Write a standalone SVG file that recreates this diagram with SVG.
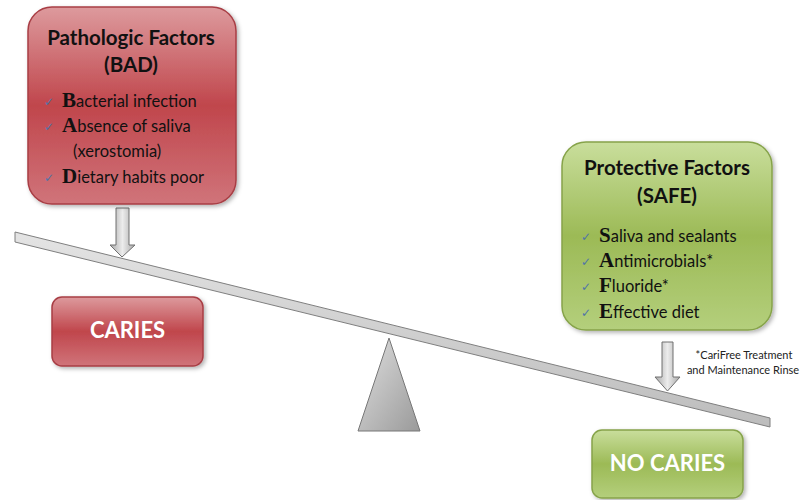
<svg xmlns="http://www.w3.org/2000/svg" width="801" height="500" viewBox="0 0 801 500">
  <defs>
    <linearGradient id="gRed" x1="0" y1="0" x2="0" y2="1">
      <stop offset="0" stop-color="#dd9a9d"/>
      <stop offset="0.5" stop-color="#c0464c"/>
      <stop offset="1" stop-color="#d0747a"/>
    </linearGradient>
    <linearGradient id="gGreen" x1="0" y1="0" x2="0" y2="1">
      <stop offset="0" stop-color="#c9de9c"/>
      <stop offset="0.5" stop-color="#9cba56"/>
      <stop offset="1" stop-color="#b4cf7c"/>
    </linearGradient>
    <linearGradient id="gArrow" x1="0" y1="0" x2="1" y2="0">
      <stop offset="0" stop-color="#a8a8a8"/>
      <stop offset="0.5" stop-color="#ececec"/>
      <stop offset="1" stop-color="#a8a8a8"/>
    </linearGradient>
    <linearGradient id="gBeam" x1="0" y1="0" x2="0" y2="1">
      <stop offset="0" stop-color="#e4e4e4"/>
      <stop offset="1" stop-color="#bcbcbc"/>
    </linearGradient>
    <linearGradient id="gTri" x1="0" y1="0" x2="1" y2="1">
      <stop offset="0" stop-color="#e0e0e0"/>
      <stop offset="1" stop-color="#9a9a9a"/>
    </linearGradient>
    <filter id="sh" x="-10%" y="-10%" width="125%" height="125%">
      <feDropShadow dx="2" dy="2" stdDeviation="2" flood-color="#000" flood-opacity="0.3"/>
    </filter>
    <style>
      .title { font-family: Lato, "Liberation Sans", sans-serif; font-weight: bold; font-size: 20.5px; fill: #111; text-anchor: middle; }
      .item { font-family: Lato, "Liberation Sans", sans-serif; font-size: 16.5px; fill: #111; }
      .big { font-family: "Liberation Serif", serif; font-weight: bold; font-size: 21px; }
      .chk { font-family: "DejaVu Sans", sans-serif; font-size: 12px; fill: #4f74a8; }
      .btn { font-family: Lato, "Liberation Sans", sans-serif; font-weight: bold; font-size: 22px; fill: #fff; text-anchor: middle; }
      .note { font-family: Lato, "Liberation Sans", sans-serif; font-size: 11px; fill: #222; text-anchor: middle; }
      .redbox { fill: url(#gRed); stroke: #a83e44; stroke-width: 1.5; }
      .greenbox { fill: url(#gGreen); stroke: #86a34a; stroke-width: 1.5; }
      .arrow { fill: url(#gArrow); stroke: #707070; stroke-width: 1; }
    </style>
  </defs>
  <rect width="801" height="500" fill="#fff"/>

  <g id="connectors">
    <polygon id="beam" points="15,232 770,418 770,427 15,242" fill="url(#gBeam)" stroke="#7f7f7f" stroke-width="1"/>
    <polygon id="fulcrum" points="389,338 420,431 358,431" fill="url(#gTri)" stroke="#777" stroke-width="1"/>
    <path id="arrow-bad" class="arrow" d="M116,208 H129 V245 H135 L122,257 L110,245 H116 Z"/>
    <path id="arrow-safe" class="arrow" d="M662,342 H673 V377 H680 L667.5,391 L655,377 H662 Z"/>
  </g>

  <g id="pathologic">
    <rect class="redbox" x="28" y="7" width="208" height="197" rx="24" filter="url(#sh)"/>
    <text class="title" x="131" y="45">Pathologic Factors</text>
    <text class="title" x="131" y="72">(BAD)</text>
    <text class="chk" x="44" y="106">✓</text>
    <text class="item" x="62" y="107"><tspan class="big">B</tspan>acterial infection</text>
    <text class="chk" x="44" y="131">✓</text>
    <text class="item" x="62" y="132"><tspan class="big">A</tspan>bsence of saliva</text>
    <text class="item" x="73" y="157">(xerostomia)</text>
    <text class="chk" x="44" y="182">✓</text>
    <text class="item" x="62" y="183"><tspan class="big">D</tspan>ietary habits poor</text>
  </g>

  <g id="protective">
    <rect class="greenbox" x="562" y="142" width="210" height="188" rx="24" filter="url(#sh)"/>
    <text class="title" x="667" y="175">Protective Factors</text>
    <text class="title" x="667" y="203">(SAFE)</text>
    <text class="chk" x="581" y="241">✓</text>
    <text class="item" x="599" y="242"><tspan class="big">S</tspan>aliva and sealants</text>
    <text class="chk" x="581" y="266">✓</text>
    <text class="item" x="599" y="267"><tspan class="big">A</tspan>ntimicrobials*</text>
    <text class="chk" x="581" y="291">✓</text>
    <text class="item" x="599" y="292"><tspan class="big">F</tspan>luoride*</text>
    <text class="chk" x="581" y="317">✓</text>
    <text class="item" x="599" y="318"><tspan class="big">E</tspan>ffective diet</text>
  </g>

  <g id="caries">
    <rect class="redbox" x="52" y="297" width="151" height="69" rx="10" filter="url(#sh)"/>
    <text class="btn" x="127.5" y="338">CARIES</text>
  </g>

  <g id="no-caries">
    <rect class="greenbox" x="592" y="430" width="151" height="68" rx="10" filter="url(#sh)"/>
    <text class="btn" x="667.5" y="471">NO CARIES</text>
  </g>

  <g id="footnote">
    <text class="note" x="744" y="359">*CariFree Treatment</text>
    <text class="note" x="743" y="374">and Maintenance Rinse</text>
  </g>
</svg>
